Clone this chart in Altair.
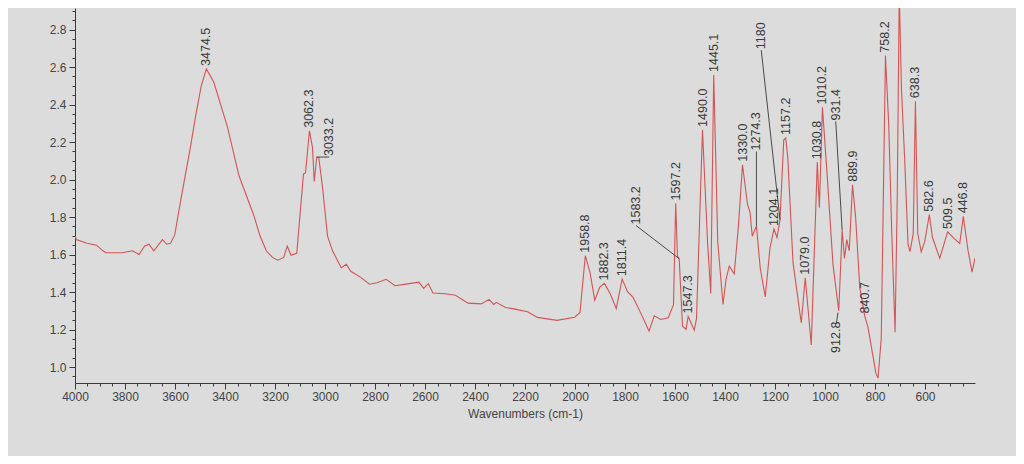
import altair as alt
import pandas as pd

# ---- spectrum ----
wavenumber = [4000, 3995, 3952, 3914, 3888, 3877, 3840, 3812, 3770, 3744, 3722, 3704, 3685,
              3650, 3633, 3618, 3601, 3577, 3540, 3516, 3495, 3474.5, 3445, 3390, 3344, 3285,
              3260, 3235, 3210, 3189, 3165, 3151, 3136, 3113, 3086, 3078, 3062.3, 3050, 3043,
              3033.2, 3025, 3010, 2990, 2970, 2935, 2915, 2897, 2860, 2822, 2792, 2755, 2720,
              2682, 2625, 2605, 2587, 2568, 2518, 2478, 2428, 2375, 2344, 2325, 2315, 2278,
              2240, 2190, 2150, 2072, 2001, 1980, 1958.8, 1940, 1921, 1901, 1882.3, 1858.7,
              1835, 1811.4, 1790, 1768, 1743, 1704, 1683, 1657, 1627, 1606, 1597.2, 1590,
              1583.2, 1570, 1556, 1547.3, 1523, 1514, 1490, 1470, 1457, 1445.1, 1429, 1408,
              1396, 1383, 1363, 1346, 1330, 1310, 1300, 1291, 1274.3, 1259, 1239, 1220, 1204.1,
              1192, 1180, 1165, 1157.2, 1149, 1128, 1095, 1079, 1055, 1030.8, 1022.5, 1010.2,
              991, 968, 945, 931.4, 922, 912.8, 903, 889.9, 877.6, 861, 840.7, 828, 796, 788,
              775, 758.2, 745, 733, 719.7, 711, 703, 694, 681, 668, 660, 647, 638.3, 629, 615,
              601, 582.6, 570, 541, 509.5, 483, 461, 446.8, 428, 412, 400]
absorbance = [1.70, 1.68, 1.66, 1.65, 1.62, 1.61, 1.61, 1.61, 1.62, 1.60, 1.645, 1.655, 1.62,
              1.68, 1.655, 1.66, 1.705, 1.89, 2.16, 2.35, 2.50, 2.59, 2.52, 2.28, 2.02, 1.81,
              1.70, 1.62, 1.585, 1.57, 1.585, 1.645, 1.596, 1.607, 2.03, 2.035, 2.26, 2.17, 1.99,
              2.12, 2.118, 1.96, 1.70, 1.62, 1.53, 1.548, 1.511, 1.481, 1.442, 1.45, 1.468, 1.434,
              1.441, 1.453, 1.42, 1.445, 1.395, 1.391, 1.383, 1.341, 1.337, 1.361, 1.334, 1.345, 1.318,
              1.309, 1.295, 1.265, 1.249, 1.266, 1.291, 1.594, 1.505, 1.357, 1.426, 1.446, 1.39,
              1.312, 1.469, 1.402, 1.372, 1.305, 1.192, 1.273, 1.254, 1.263, 1.333, 1.873, 1.59,
              1.578, 1.219, 1.201, 1.27, 1.197, 1.258, 2.265, 1.671, 1.393, 2.558, 1.668, 1.334,
              1.466, 1.538, 1.497, 1.757, 2.079, 1.867, 1.827, 1.698, 1.753, 1.527, 1.374, 1.636, 1.736,
              1.691, 1.785, 2.211, 2.222, 2.121, 1.558, 1.235, 1.476, 1.118, 2.093, 1.85, 2.385,
              2.017, 1.546, 1.30, 1.73, 1.58, 1.68, 1.62, 1.972, 1.801, 1.425, 1.27, 1.212, 0.965, 0.941,
              1.151, 2.661, 2.289, 1.718, 1.186, 1.905, 3.00, 2.478, 2.099, 1.657, 1.616, 1.713, 2.418, 1.712, 1.614,
              1.67, 1.813, 1.691, 1.58, 1.721, 1.685, 1.66, 1.804, 1.623, 1.506, 1.581]

# ---- peak labels placed directly above their peaks ----
peak_text = ["3474.5", "3062.3", "1958.8", "1882.3", "1811.4", "1597.2", "1547.3", "1490.0",
             "1445.1", "1330.0", "1204.1", "1157.2", "1079.0", "1030.8", "1010.2", "889.9",
             "840.7", "758.2", "638.3", "582.6", "509.5", "446.8"]
peak_wn = [3474.5, 3062.3, 1958.8, 1882.3, 1811.4, 1597.2, 1547.3, 1490.0, 1445.1, 1330.0,
           1204.1, 1157.2, 1079.0, 1030.8, 1010.2, 889.9, 840.7, 758.2, 638.3, 582.6, 509.5, 446.8]
peak_abs = [2.59, 2.26, 1.594, 1.446, 1.469, 1.873, 1.27, 2.265, 2.558, 2.079, 1.736, 2.222,
            1.476, 2.093, 2.385, 1.972, 1.27, 2.661, 2.418, 1.813, 1.721, 1.804]

# ---- peak labels drawn off the peak with a leader line ----
lead_text = ["3033.2", "1583.2", "1274.3", "1180", "931.4", "912.8"]
lead_label_wn = [2983, 1756, 1274.3, 1255, 957, 955]
lead_label_abs = [2.12, 1.755, 2.15, 2.69, 2.31, 1.07]
lead_from_wn = [3033.2, 1583.2, 1274.3, 1180, 931.4, 948]
lead_from_abs = [2.12, 1.578, 1.753, 1.785, 1.73, 1.29]
lead_to_wn = [2983, 1756, 1274.3, 1255, 957, 955]
lead_to_abs = [2.12, 1.755, 2.15, 2.69, 2.31, 1.23]

x_ticks = list(range(4000, 449, -50))
y_ticks = [round(0.95 + 0.05 * i, 2) for i in range(40)]

spec = pd.DataFrame({"wn": wavenumber, "a": absorbance})
peaks = pd.DataFrame({"wn": peak_wn, "a": peak_abs, "t": peak_text})
leads = pd.DataFrame({"t": lead_text, "lx": lead_label_wn, "ly": lead_label_abs,
                      "x1": lead_from_wn, "y1": lead_from_abs, "x2": lead_to_wn, "y2": lead_to_abs})

FONT = "Liberation Sans"
x_scale = alt.Scale(domain=[4000, 400], nice=False, zero=False)
y_scale = alt.Scale(domain=[0.915, 2.915], nice=False, zero=False)

X_MAJOR = "datum.value % 200 === 0"
Y_MAJOR = "round(datum.value * 100) % 20 === 0"

x_axis = alt.Axis(
    values=x_ticks, tickCount=500,
    labelExpr=X_MAJOR + " ? format(datum.value, 'd') : ''",
    tickSize={"condition": {"test": X_MAJOR, "value": 6}, "value": 3},
    title="Wavenumbers (cm-1)", grid=False, labelOverlap=False, labelFlush=False,
    domainColor="#3a3a3a", tickColor="#3a3a3a", labelColor="#444444",
    labelFont=FONT, labelFontSize=12, titleFont=FONT, titleFontSize=12,
    titleFontWeight="normal", titleColor="#444444", titlePadding=6,
)
y_axis = alt.Axis(
    values=y_ticks, tickCount=500,
    labelExpr=Y_MAJOR + " ? format(datum.value, '.1f') : ''",
    tickSize={"condition": {"test": Y_MAJOR, "value": 6}, "value": 3},
    title="", grid=False, labelOverlap=False, labelFlush=False,
    domainColor="#3a3a3a", tickColor="#3a3a3a", labelColor="#444444",
    labelFont=FONT, labelFontSize=12, labelPadding=3,
)

line = alt.Chart(spec).mark_line(color="#d25454", strokeWidth=1.1, clip=True).encode(
    x=alt.X("wn:Q", scale=x_scale, axis=x_axis),
    y=alt.Y("a:Q", scale=y_scale, axis=y_axis),
    order=alt.Order("wn:Q", sort="descending"),
)

peak_labels = alt.Chart(peaks).mark_text(
    angle=270, align="left", baseline="middle", dx=3, font=FONT, fontSize=12.5, color="#3a3a3a"
).encode(x=alt.X("wn:Q", scale=x_scale), y=alt.Y("a:Q", scale=y_scale), text="t:N")

lead_lines = alt.Chart(leads).mark_rule(color="#4a4a4a", strokeWidth=1).encode(
    x=alt.X("x1:Q", scale=x_scale), y=alt.Y("y1:Q", scale=y_scale),
    x2="x2:Q", y2="y2:Q",
)

lead_labels = alt.Chart(leads).mark_text(
    angle=270, align="left", baseline="middle", dx=1, font=FONT, fontSize=12.5, color="#3a3a3a"
).encode(x=alt.X("lx:Q", scale=x_scale), y=alt.Y("ly:Q", scale=y_scale), text="t:N")

chart = alt.layer(line, lead_lines, peak_labels, lead_labels).properties(
    width=900, height=375,
    autosize=alt.AutoSizeParams(type="none"),
    padding={"left": 67, "top": 0, "right": 41, "bottom": 73},
    background="#dcdcdc",
).configure_view(strokeWidth=0)

chart.save("out.html", embed_options={"renderer": "svg", "actions": False})
